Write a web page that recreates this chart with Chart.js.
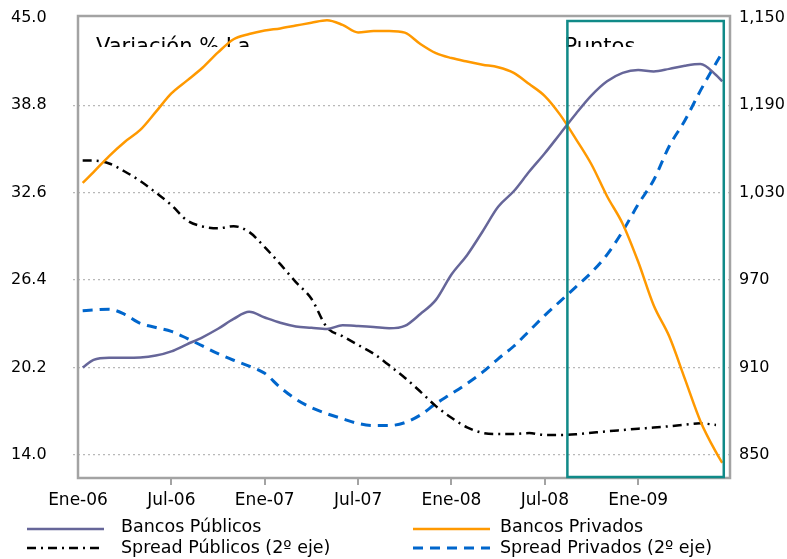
<!DOCTYPE html>
<html>
<head>
<meta charset="utf-8">
<script src="https://cdn.jsdelivr.net/npm/chart.js@4.4.1/dist/chart.umd.min.js"></script>
<style>
  html, body { margin: 0; padding: 0; background: #fff; }
  #wrap { width: 787px; height: 559px; position: relative; }
</style>
</head>
<body>
<div id="wrap"><canvas id="c" width="787" height="559"></canvas></div>
<script>
// Months counted from Ene-06 (0 = Ene-06, 6 = Jul-06, ...)
const months = [0.3, 1, 2, 3, 4, 5, 6, 7, 8, 9, 10, 11, 12, 13, 14, 15, 16, 17, 18, 19, 20,
  21, 22, 23, 24, 25, 26, 27, 28, 29, 30, 31, 32, 33, 34, 35, 36, 37, 38, 39, 40, 41, 41.4];

// Variación % (left axis)
const bancosPublicos = [20.2, 20.75, 20.9, 20.9, 20.92, 21.05, 21.35, 21.85, 22.35, 22.95, 23.65,
  24.15, 23.75, 23.38, 23.12, 23.02, 22.93, 23.2, 23.15, 23.08, 22.98, 23.15, 24.0, 25.0, 26.8,
  28.17, 29.85, 31.6, 32.7, 34.1, 35.4, 36.8, 38.2, 39.5, 40.5, 41.1, 41.3, 41.2, 41.38, 41.6,
  41.72, 40.95, 40.5];
const bancosPrivados = [33.3, 34.06, 35.2, 36.2, 37.05, 38.33, 39.64, 40.55, 41.46, 42.55, 43.48,
  43.85, 44.1, 44.25, 44.45, 44.65, 44.83, 44.5, 43.96, 44.07, 44.07, 43.95, 43.15, 42.5, 42.15,
  41.9, 41.68, 41.5, 41.1, 40.3, 39.45, 38.1, 36.4, 34.6, 32.35, 30.4, 27.7, 24.6, 22.4, 19.4,
  16.4, 14.2, 13.45];

// Puntos (right axis)
const spreadPublicos = [1052, 1052, 1050, 1044.5, 1038, 1030, 1021.5, 1011, 1006.8, 1005.5, 1007,
  1003, 992.6, 980.9, 968.6, 957.2, 937.5, 931.5, 925.5, 919.5, 911.5, 903, 893.5, 883.5, 875.5,
  869, 865.2, 864.4, 864.4, 865, 863.7, 863.7, 864.2, 865.2, 866.2, 867.1, 868, 868.8, 869.7,
  870.8, 871.7, 870.6, null];
const spreadPrivados = [949, 949.5, 950, 946.5, 940.3, 937.5, 934.8, 930, 924.8, 919.5, 915, 911,
  906, 896.3, 888.3, 882.5, 878.3, 874.9, 871.6, 870.2, 870.2, 872.2, 877.4, 885.2, 892, 899,
  906.8, 916, 924.6, 935.1, 945.8, 955.6, 965.4, 975.3, 987.5, 1003.5, 1022, 1038.7, 1062,
  1079.5, 1100, 1118.8, 1126];

// Axis ticks and labels
const xTickMonths = [0, 6, 12, 18, 24, 30, 36];
const xTickLabels = ['Ene-06', 'Jul-06', 'Ene-07', 'Jul-07', 'Ene-08', 'Jul-08', 'Ene-09'];
const leftTicks = [14.0, 20.2, 26.4, 32.6, 38.8, 45.0];
const rightTicks = [850, 910, 970, 1030, 1090, 1150];
const rightTickLabels = ['850', '910', '970', '1,030', '1,190', '1,150'];

// Highlighted period (months) and box titles
const highlightFrom = 31.45, highlightTo = 41.5;
const leftTitle = 'Variación % La';
const rightTitle = 'Puntos';

const FONT = "'DejaVu Sans', sans-serif";

const pts = arr => months.map((m, i) => ({ x: m, y: arr[i] }));

const decor = {
  id: 'decor',
  beforeDatasetsDraw(chart) {
    const { ctx, chartArea: a } = chart;
    ctx.save();
    // plot frame
    ctx.strokeStyle = '#a3a3a3';
    ctx.lineWidth = 2.5;
    ctx.strokeRect(a.left, a.top, a.right - a.left, a.bottom - a.top);
    // clipped titles
    ctx.beginPath();
    ctx.rect(0, 0, chart.width, a.top + 31);
    ctx.clip();
    ctx.fillStyle = '#000';
    ctx.font = '21px ' + FONT;
    ctx.textBaseline = 'alphabetic';
    ctx.fillText(leftTitle, a.left + 18, a.top + 37);
    const xs = chart.scales.x;
    ctx.fillText(rightTitle, xs.getPixelForValue(highlightFrom) - 3, a.top + 37);
    ctx.restore();
  },
  afterDatasetsDraw(chart) {
    const { ctx, chartArea: a } = chart;
    const xs = chart.scales.x;
    const x0 = xs.getPixelForValue(highlightFrom);
    const x1 = xs.getPixelForValue(highlightTo);
    ctx.save();
    ctx.strokeStyle = '#108a88';
    ctx.lineWidth = 2.5;
    ctx.strokeRect(x0, a.top + 5, x1 - x0, a.bottom - a.top - 6);
    ctx.restore();
  },
  afterDraw(chart) {
    const { ctx } = chart;
    const ds = chart.data.datasets;
    const cols = [{ lx: 27, tx: 121 }, { lx: 413, tx: 500 }];
    const rows = [527, 548];
    const order = [[0, 0, 0], [1, 1, 0], [2, 0, 1], [3, 1, 1]];
    ctx.save();
    ctx.font = '17.5px ' + FONT;
    ctx.textBaseline = 'middle';
    ctx.fillStyle = '#000';
    order.forEach(([di, c, r]) => {
      const d = ds[di];
      const y = rows[r] + (r === 0 ? 2 : 0);
      ctx.beginPath();
      ctx.strokeStyle = d.borderColor;
      ctx.lineWidth = d.borderWidth;
      ctx.setLineDash(d.borderDash || []);
      ctx.moveTo(cols[c].lx, y);
      ctx.lineTo(cols[c].lx + 77, y);
      ctx.stroke();
      ctx.setLineDash([]);
      ctx.fillText(d.label, cols[c].tx, rows[r]);
    });
    ctx.restore();
  }
};

new Chart(document.getElementById('c'), {
  type: 'line',
  data: {
    datasets: [
      { label: 'Bancos Públicos', data: pts(bancosPublicos), yAxisID: 'y',
        borderColor: '#666699', borderWidth: 2.5 },
      { label: 'Bancos Privados', data: pts(bancosPrivados), yAxisID: 'y',
        borderColor: '#ff9900', borderWidth: 2.5 },
      { label: 'Spread Públicos (2º eje)', data: pts(spreadPublicos), yAxisID: 'y2',
        borderColor: '#000000', borderWidth: 2.5, borderDash: [9, 5, 2, 5] },
      { label: 'Spread Privados (2º eje)', data: pts(spreadPrivados), yAxisID: 'y2',
        borderColor: '#0066cc', borderWidth: 3, borderDash: [10, 7] }
    ]
  },
  options: {
    responsive: false,
    animation: false,
    events: [],
    layout: { padding: { top: 16, right: 0, bottom: 0, left: 11 } },
    elements: {
      point: { radius: 0 },
      line: { cubicInterpolationMode: 'monotone', fill: false, borderCapStyle: 'butt' }
    },
    plugins: { legend: { display: false }, tooltip: { enabled: false }, title: { display: false } },
    scales: {
      x: {
        type: 'linear', min: 0, max: 41.9,
        afterBuildTicks: s => { s.ticks = xTickMonths.map(v => ({ value: v })); },
        afterFit: s => { s.height = 81; },
        ticks: {
          autoSkip: false, maxRotation: 0, padding: 5, color: '#000',
          font: { family: FONT, size: 17 },
          callback: v => xTickLabels[xTickMonths.indexOf(v)]
        },
        grid: {
          drawOnChartArea: false, drawTicks: true, tickLength: 7, lineWidth: 2,
          color: ctx => (ctx.tick && ctx.tick.value === 0) ? 'rgba(0,0,0,0)' : '#a3a3a3'
        },
        border: { display: false }
      },
      y: {
        position: 'left', min: 12.37, max: 45.13,
        afterBuildTicks: s => { s.ticks = leftTicks.map(v => ({ value: v })); },
        afterFit: s => { s.width = 67; },
        ticks: {
          padding: 2, crossAlign: 'far', color: '#000',
          font: { family: FONT, size: 16, lineHeight: 1 },
          callback: v => v.toFixed(1)
        },
        grid: {
          color: ctx => (ctx.tick && ctx.tick.value === 45) ? 'rgba(0,0,0,0)' : '#b8b8b8',
          lineWidth: 1.3, tickBorderDash: [2, 3], tickLength: 5
        },
        border: { display: false, dash: [2, 3] }
      },
      y2: {
        position: 'right', min: 834.2, max: 1151.2,
        afterBuildTicks: s => { s.ticks = rightTicks.map(v => ({ value: v })); },
        afterFit: s => { s.width = 57; },
        ticks: {
          padding: 9, color: '#000', font: { family: FONT, size: 16, lineHeight: 0.8 },
          callback: v => rightTickLabels[rightTicks.indexOf(v)]
        },
        grid: { drawOnChartArea: false, drawTicks: false },
        border: { display: false }
      }
    }
  },
  plugins: [decor]
});
</script>
</body>
</html>
